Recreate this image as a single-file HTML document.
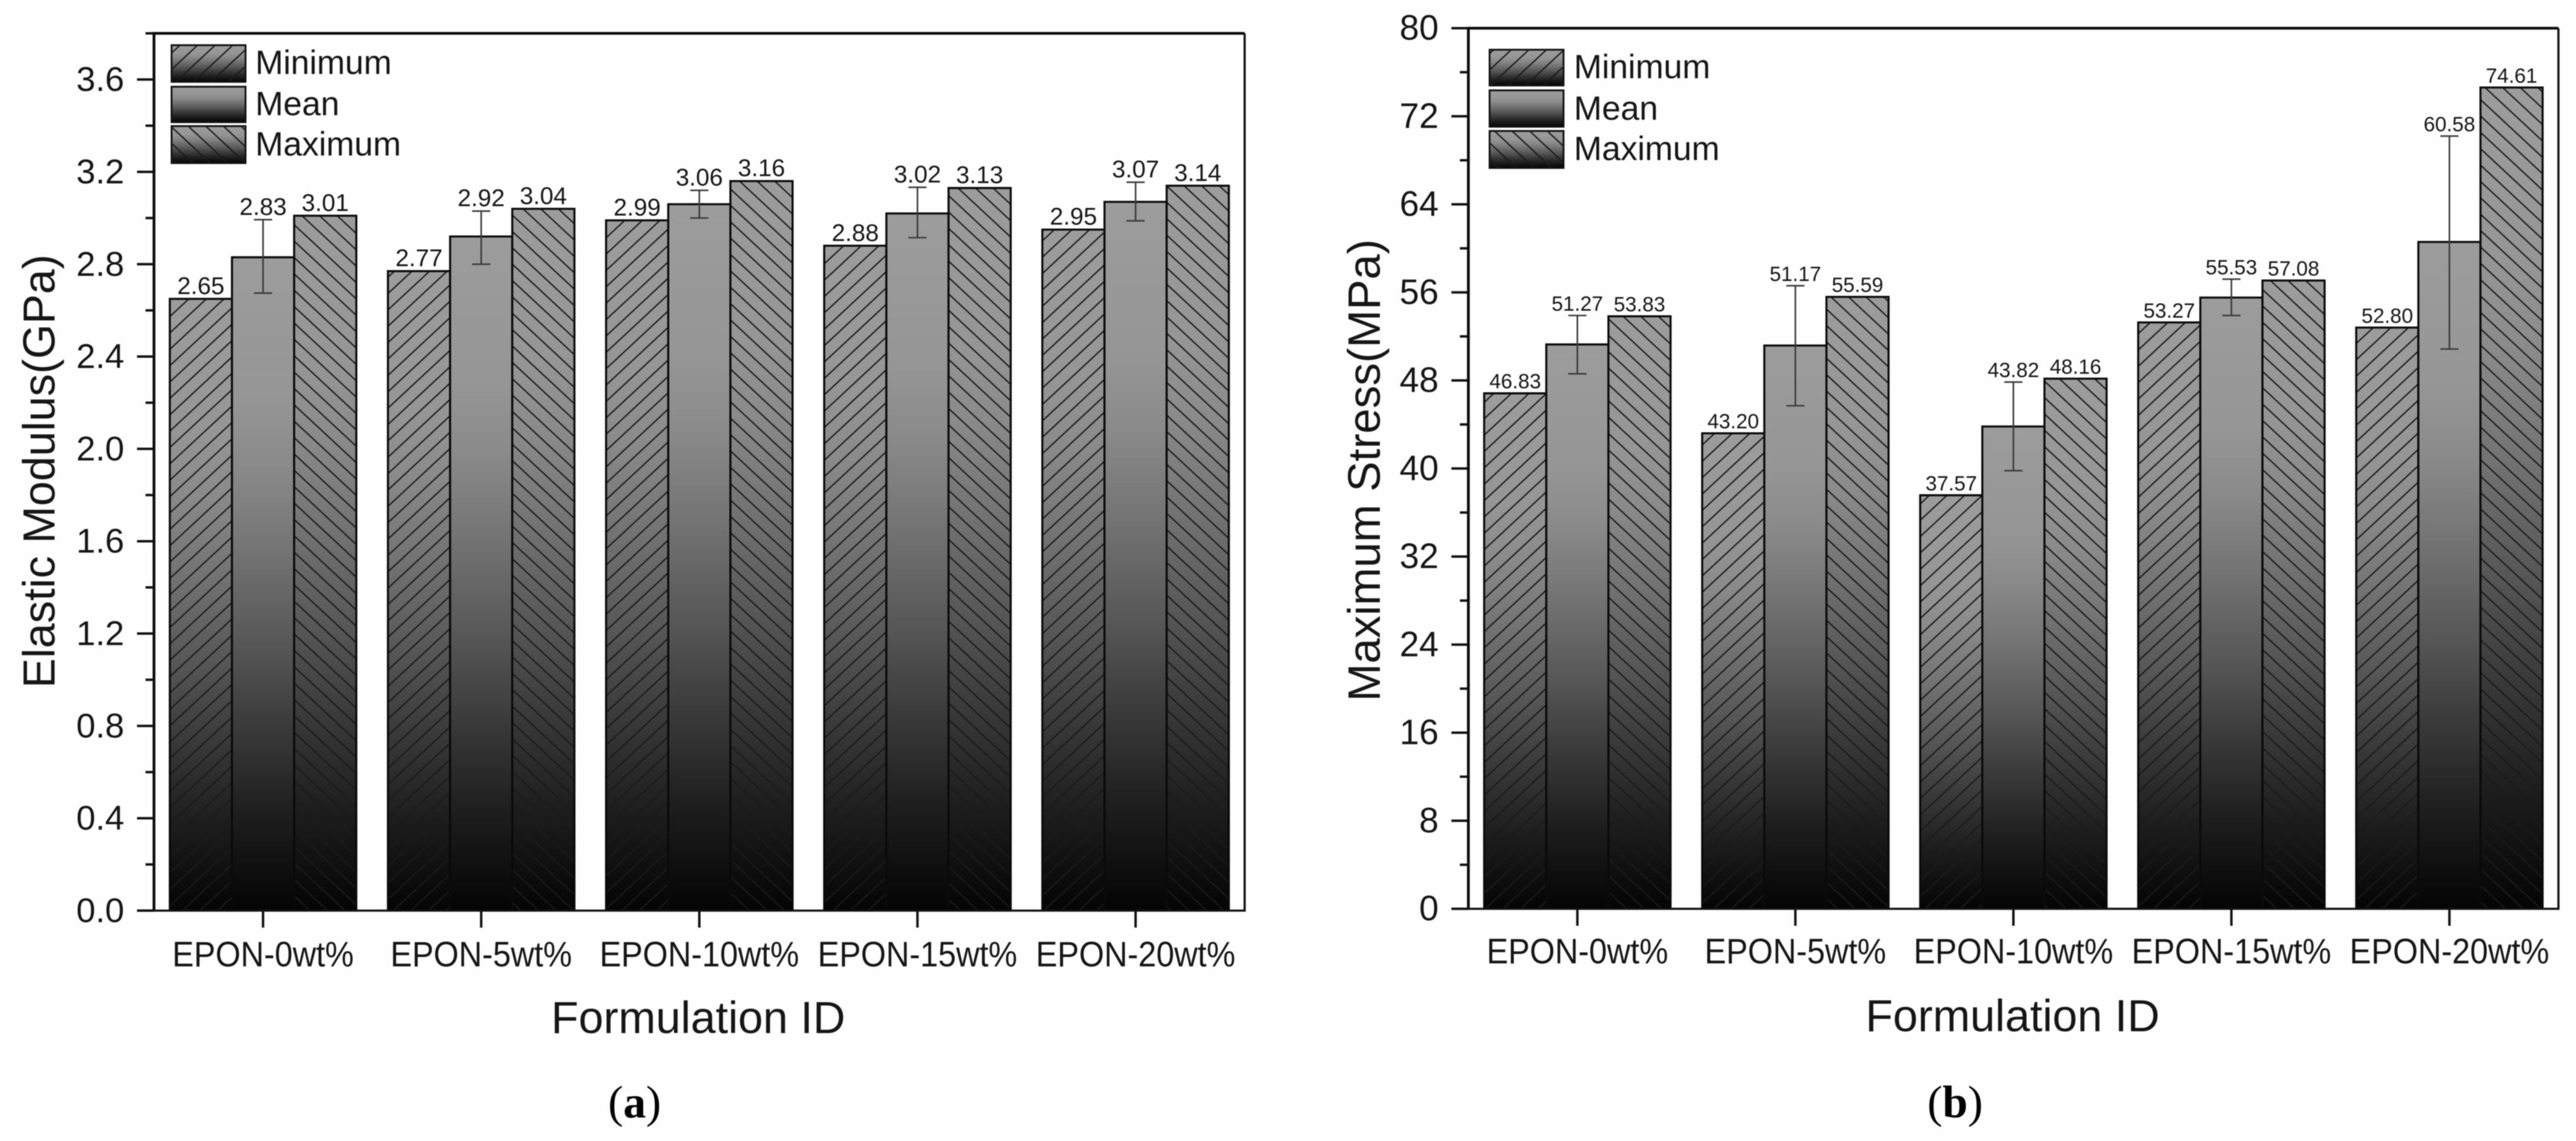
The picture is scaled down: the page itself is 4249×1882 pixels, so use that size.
<!DOCTYPE html>
<html lang="en">
<head>
<meta charset="utf-8">
<title>Elastic modulus and maximum stress by formulation</title>
<style>
html,body{margin:0;padding:0;background:#fff;}
svg{display:block;filter:blur(0.7px);}
text{font-family:"Liberation Sans",sans-serif;fill:#161616;}
</style>
</head>
<body>
<svg id="figure" xmlns="http://www.w3.org/2000/svg" width="4249" height="1882" viewBox="0 0 4249 1882">
  <defs>
    <linearGradient id="barFade" x1="0" y1="0" x2="0" y2="1">
      <stop offset="0" stop-color="#9c9c9c"/>
      <stop offset="0.22" stop-color="#959595"/>
      <stop offset="0.32" stop-color="#8a8a8a"/>
      <stop offset="0.45" stop-color="#737373"/>
      <stop offset="0.6" stop-color="#555555"/>
      <stop offset="0.7" stop-color="#3e3e3e"/>
      <stop offset="0.85" stop-color="#1e1e1e"/>
      <stop offset="1" stop-color="#040404"/>
    </linearGradient>
    <pattern id="hatchUp" patternUnits="userSpaceOnUse" width="29" height="27">
      <path d="M-2.9 29.7L31.9 -2.7M-3 2.8L3 -2.8M26 29.8L32 24.2" stroke="#1a1a1a" stroke-width="2.2" fill="none"/>
    </pattern>
    <pattern id="hatchDown" patternUnits="userSpaceOnUse" width="29" height="27">
      <path d="M-2.9 -2.7L31.9 29.7M-3 24.2L3 29.8M26 -2.8L32 2.8" stroke="#1a1a1a" stroke-width="2.2" fill="none"/>
    </pattern>
  </defs>
  <rect x="0" y="0" width="4249" height="1882" fill="#fefefe"/>
  <g id="panelA"></g>
  <g id="panelB"></g>

  <text transform="translate(90,1135) rotate(-90)" font-size="74">Elastic Modulus(GPa)</text>
  <text x="909" y="1704" font-size="74">Formulation ID</text>
  <text transform="translate(2276,1157) rotate(-90)" font-size="75">Maximum Stress(MPa)</text>
  <text x="3077" y="1701" font-size="74">Formulation ID</text>

  <text x="1003" y="1843" font-size="75" style="font-family:'Liberation Serif',serif;fill:#000">(<tspan font-weight="bold">a</tspan>)</text>
  <text x="3179" y="1843" font-size="75" style="font-family:'Liberation Serif',serif;fill:#000">(<tspan font-weight="bold">b</tspan>)</text>
</svg>

<script>
const categories = ['EPON-0wt%', 'EPON-5wt%', 'EPON-10wt%', 'EPON-15wt%', 'EPON-20wt%'];
const seriesNames = ['Minimum', 'Mean', 'Maximum'];

const modulusMinimum = [2.65, 2.77, 2.99, 2.88, 2.95];
const modulusMean = [2.83, 2.92, 3.06, 3.02, 3.07];
const modulusMaximum = [3.01, 3.04, 3.16, 3.13, 3.14];
const modulusErrorLow = [2.675, 2.80, 3.00, 2.915, 2.988];
const modulusErrorHigh = [2.993, 3.03, 3.12, 3.133, 3.155];
const modulusTickLabels = ['0.0', '0.4', '0.8', '1.2', '1.6', '2.0', '2.4', '2.8', '3.2', '3.6'];
const modulusDomainMax = 3.8;

const stressMinimum = [46.83, 43.20, 37.57, 53.27, 52.80];
const stressMean = [51.27, 51.17, 43.82, 55.53, 60.58];
const stressMaximum = [53.83, 55.59, 48.16, 57.08, 74.61];
const stressErrorLow = [48.6, 45.7, 39.8, 53.9, 50.85];
const stressErrorHigh = [53.9, 56.6, 47.85, 57.2, 70.2];
const stressTickLabels = ['0', '8', '16', '24', '32', '40', '48', '56', '64', '72', '80'];
const stressDomainMax = 80;

const svgNS = 'http://www.w3.org/2000/svg';

function make(parent, tag, attrs, content) {
  const el = document.createElementNS(svgNS, tag);
  for (const key in attrs) el.setAttribute(key, attrs[key]);
  if (content !== undefined) el.textContent = content;
  parent.appendChild(el);
  return el;
}

function drawChart(cfg) {
  const root = document.getElementById(cfg.rootId);
  const tag = cfg.tag;
  const yScale = v => cfg.bottom - (v / cfg.domainMax) * (cfg.bottom - cfg.top);
  const step = (cfg.right - cfg.left) / cfg.categories.length;
  const xCenter = i => cfg.left + (i + 0.5) * step;
  const barWidth = step * 0.285;
  const hatches = ['url(#hatchUp)', null, 'url(#hatchDown)'];

  cfg.series.forEach((values, s) => {
    values.forEach((v, i) => {
      const x = xCenter(i) + (s - 1) * barWidth - barWidth / 2;
      const y = yScale(v);
      const h = cfg.bottom - y;
      const bar = make(root, 'rect', { x: x, y: y, width: barWidth, height: h, fill: 'url(#barFade)' });
      
      
      if (hatches[s]) {
        const hatch = make(root, 'rect', { x: x, y: y, width: barWidth, height: h, fill: hatches[s] });
        
        
      }
      const outline = make(root, 'path', {
        d: 'M' + x + ' ' + cfg.bottom + 'V' + y + 'H' + (x + barWidth) + 'V' + cfg.bottom,
        fill: 'none', stroke: '#0a0a0a', 'stroke-width': 3.4
      });
      
      
    });
  });

  cfg.errorLow.forEach((low, i) => {
    const high = cfg.errorHigh[i];
    const cx = xCenter(i);
    const err = make(root, 'path', {
      d: 'M' + cx + ' ' + yScale(low) + 'V' + yScale(high) +
         'M' + (cx - 15) + ' ' + yScale(low) + 'H' + (cx + 15) +
         'M' + (cx - 15) + ' ' + yScale(high) + 'H' + (cx + 15),
      fill: 'none', stroke: '#3a3a3a', 'stroke-width': 2.6
    });
    
    
  });

  cfg.series.forEach((values, s) => {
    values.forEach((v, i) => {
      const anchorValue = s === 1 ? cfg.errorHigh[i] : v;
      const label = make(root, 'text', {
        x: xCenter(i) + (s - 1) * barWidth,
        y: yScale(anchorValue) - 8,
        'text-anchor': 'middle',
        'font-size': cfg.valueFont
      }, v.toFixed(2));
      
      
    });
  });

  const majors = cfg.tickLabels.map(Number);
  const tickGap = majors[1] - majors[0];
  cfg.tickLabels.forEach((text, i) => {
    const v = majors[i];
    const y = yScale(v);
    const tick = make(root, 'line', { x1: cfg.left - 28, x2: cfg.left, y1: y, y2: y, stroke: '#111', 'stroke-width': 4 });
    
    
    const label = make(root, 'text', { x: cfg.left - 49, y: y + 19, 'text-anchor': 'end', 'font-size': cfg.tickFont }, text);
    
    
    const minorValue = v + tickGap / 2;
    if (minorValue < cfg.domainMax + 1e-6) {
      const my = yScale(minorValue);
      const minor = make(root, 'line', { x1: cfg.left - 14, x2: cfg.left, y1: my, y2: my, stroke: '#111', 'stroke-width': 4 });
      
      
    }
  });

  cfg.categories.forEach((name, i) => {
    const cx = xCenter(i);
    const tick = make(root, 'line', { x1: cx, x2: cx, y1: cfg.bottom, y2: cfg.bottom + 28, stroke: '#111', 'stroke-width': 4 });
    
    
    const label = make(root, 'text', {
      transform: 'translate(' + cx + ',' + cfg.xLabelY + ') scale(0.92,1)',
      'text-anchor': 'middle',
      'font-size': 58
    }, name);
    
    
  });

  const frame = make(root, 'path', {
    d: 'M' + cfg.left + ' ' + cfg.bottom + 'V' + cfg.top + 'H' + cfg.right,
    fill: 'none', stroke: '#0c0c0c', 'stroke-width': 4.6
  });
  
  
  const frameEnd = make(root, 'path', {
    d: 'M' + cfg.right + ' ' + cfg.top + 'V' + cfg.bottom + 'H' + cfg.left,
    fill: 'none', stroke: '#111', 'stroke-width': 3.6
  });
  
  

  const swatchFills = hatches;
  seriesNames.forEach((name, s) => {
    const box = cfg.legendBoxes[s];
    const swatch = make(root, 'rect', { x: cfg.legendX, y: box[0], width: cfg.legendW, height: box[1], fill: 'url(#barFade)', stroke: '#111', 'stroke-width': 3 });
    
    
    if (swatchFills[s]) {
      const swatchHatch = make(root, 'rect', { x: cfg.legendX, y: box[0], width: cfg.legendW, height: box[1], fill: swatchFills[s] });
      
      
    }
    const legendText = make(root, 'text', { x: cfg.legendTextX, y: cfg.legendBaselines[s], 'font-size': 55.5 }, name);
    
    
  });
}

drawChart({
  rootId: 'panelA', tag: 'modulus', categories: categories,
  series: [modulusMinimum, modulusMean, modulusMaximum],
  errorLow: modulusErrorLow, errorHigh: modulusErrorHigh,
  tickLabels: modulusTickLabels, domainMax: modulusDomainMax,
  left: 254, right: 2053, top: 55, bottom: 1502,
  valueFont: 40, tickFont: 57, xLabelY: 1594,
  legendX: 283, legendW: 122, legendTextX: 421,
  legendBoxes: [[74.5, 60.5], [143, 58.5], [208, 61]],
  legendBaselines: [122, 190, 256.6]
});

drawChart({
  rootId: 'panelB', tag: 'stress', categories: categories,
  series: [stressMinimum, stressMean, stressMaximum],
  errorLow: stressErrorLow, errorHigh: stressErrorHigh,
  tickLabels: stressTickLabels, domainMax: stressDomainMax,
  left: 2422, right: 4220, top: 46.5, bottom: 1499,
  valueFont: 34, tickFont: 58, xLabelY: 1589,
  legendX: 2457, legendW: 122, legendTextX: 2596,
  legendBoxes: [[82, 59], [149, 60], [216, 61]],
  legendBaselines: [129, 197.5, 264]
});
</script>
</body>
</html>
